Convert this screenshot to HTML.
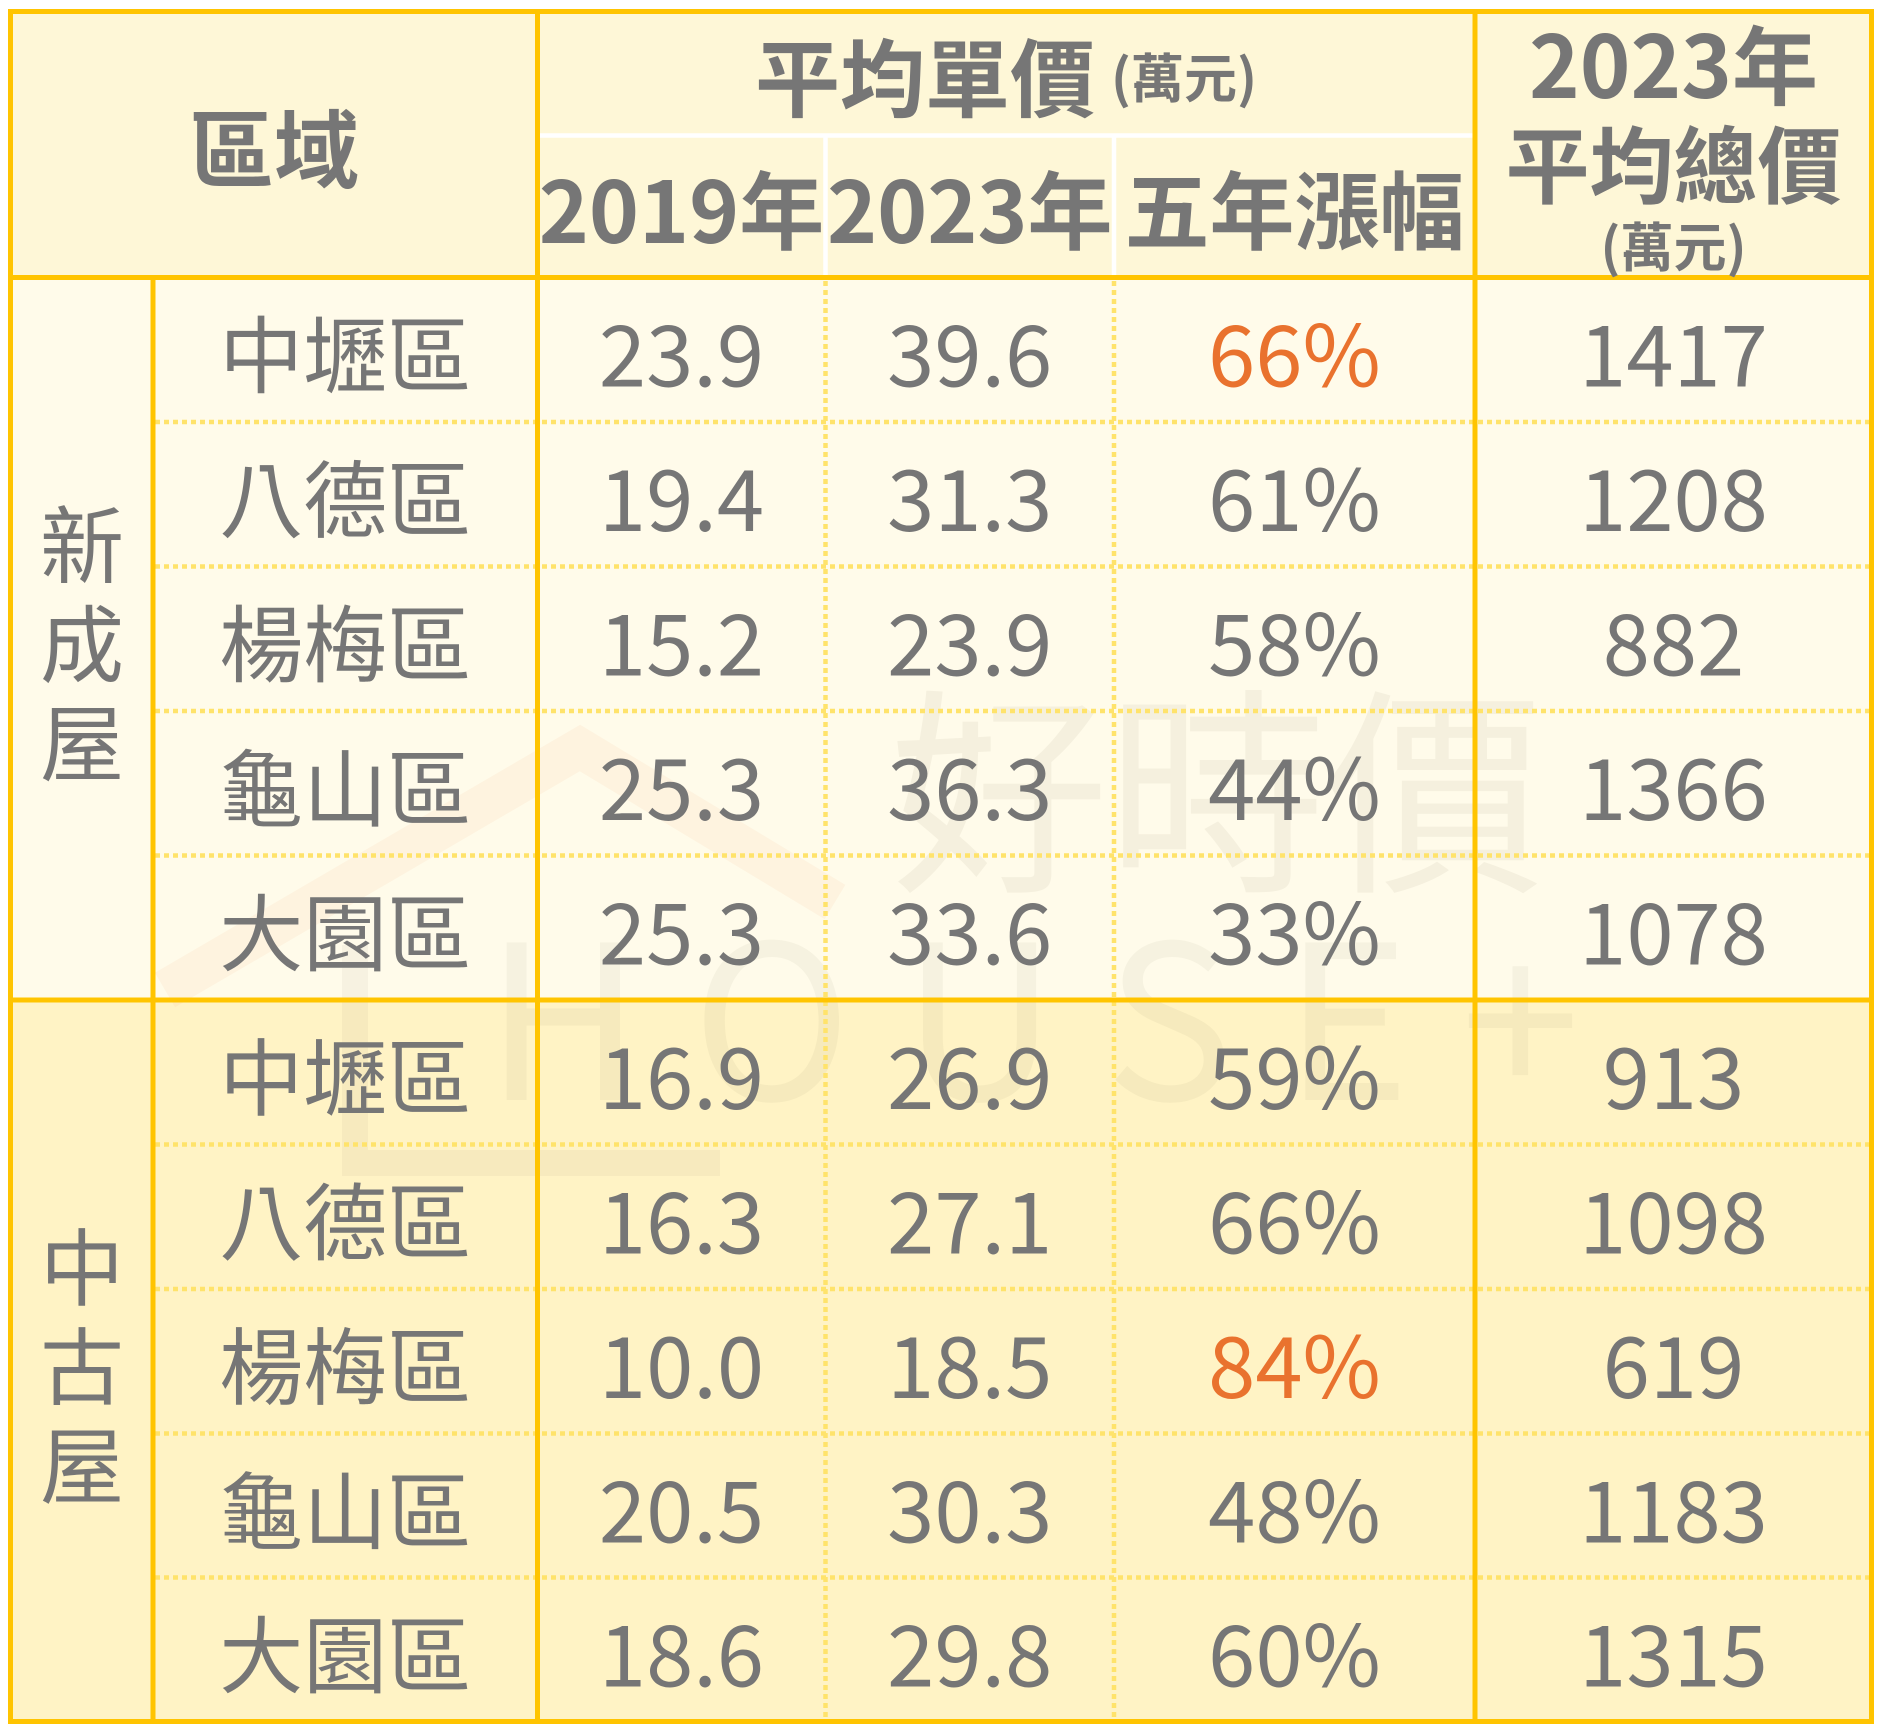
<!DOCTYPE html>
<html>
<head>
<meta charset="utf-8">
<style>
  html,body{margin:0;padding:0;background:#fff;}
  body{width:1886px;height:1734px;overflow:hidden;}
  svg{display:block;}
  .t{font-family:"Noto Sans CJK TC","Liberation Sans","Noto Sans CJK SC",sans-serif;fill:#767676;}
  .h{font-weight:700;}
</style>
</head>
<body>
<svg width="1886" height="1734" viewBox="0 0 1886 1734" xmlns="http://www.w3.org/2000/svg">
  <rect width="1886" height="1734" fill="#ffffff"/>
  <!-- backgrounds -->
  <rect x="10" y="11" width="1862" height="267" fill="#fef7d7"/>
  <rect x="10" y="277" width="1862" height="723" fill="#fffbea"/>
  <rect x="10" y="1000" width="1862" height="722" fill="#fff3c5"/>

  <!-- watermark -->
  <polyline points="165,990 580,748 835,902" fill="none" stroke="rgba(245,140,80,0.07)" stroke-width="40" stroke-linejoin="miter"/>
  <path d="M355,945 V1163 H720" fill="none" stroke="rgba(120,110,80,0.06)" stroke-width="26"/>
  <text class="t" x="889" y="875" font-size="220" textLength="655" lengthAdjust="spacing" style="fill:rgba(110,100,70,0.07)">好時價</text>
  <text class="t" x="485" y="1100" font-size="215" font-weight="400" textLength="1095" lengthAdjust="spacing" style="fill:rgba(110,100,70,0.06)">HOUSE+</text>

  <!-- dotted horizontals -->
  <g stroke="#ffe36b" stroke-width="4.5" stroke-dasharray="5 4">
    <line x1="155" x2="1870" y1="422" y2="422"/>
    <line x1="155" x2="1870" y1="566.5" y2="566.5"/>
    <line x1="155" x2="1870" y1="711" y2="711"/>
    <line x1="155" x2="1870" y1="855.5" y2="855.5"/>
    <line x1="155" x2="1870" y1="1144.5" y2="1144.5"/>
    <line x1="155" x2="1870" y1="1289" y2="1289"/>
    <line x1="155" x2="1870" y1="1433.5" y2="1433.5"/>
    <line x1="155" x2="1870" y1="1577.5" y2="1577.5"/>
    <line x1="825.5" x2="825.5" y1="281" y2="1719"/>
    <line x1="1114" x2="1114" y1="281" y2="1719"/>
  </g>

  <!-- white header lines -->
  <g stroke="#ffffff" stroke-width="4.5">
    <line x1="540" x2="1472.5" y1="135.5" y2="135.5"/>
    <line x1="825.5" x2="825.5" y1="137.5" y2="275"/>
    <line x1="1114" x2="1114" y1="137.5" y2="275"/>
  </g>

  <!-- solid lines -->
  <g stroke="#ffc400" stroke-width="5">
    <line x1="10" x2="1872" y1="277.5" y2="277.5"/>
    <line x1="10" x2="1872" y1="1000" y2="1000"/>
    <line x1="153" x2="153" y1="277.5" y2="1721.5"/>
    <line x1="537.5" x2="537.5" y1="11" y2="1721.5"/>
    <line x1="1475" x2="1475" y1="11" y2="1721.5"/>
  </g>
  <rect x="10.5" y="11.5" width="1861" height="1710" fill="none" stroke="#ffc400" stroke-width="5"/>

  <!-- header text -->
  <g class="t h" text-anchor="middle">
    <text x="274" y="181.5" font-size="85">區域</text>
    <text x="1006" y="110.7" font-size="85">平均單價<tspan font-size="53" dx="16" dy="-13">(萬元)</tspan></text>
    <text x="681.5" y="243" font-size="85">2019年</text>
    <text x="969.75" y="243" font-size="85">2023年</text>
    <text x="1294.5" y="243" font-size="85">五年漲幅</text>
    <text x="1673.5" y="98" font-size="86">2023年</text>
    <text x="1673.5" y="197" font-size="84">平均總價</text>
    <text x="1673.5" y="266.5" font-size="53">(萬元)</text>
  </g>

  <!-- group labels -->
  <g class="t" text-anchor="middle" font-size="84">
    <text x="82" y="576.6">新</text>
    <text x="82" y="675.6">成</text>
    <text x="82" y="774.6">屋</text>
    <text x="82" y="1299">中</text>
    <text x="82" y="1398">古</text>
    <text x="82" y="1497">屋</text>
  </g>

  <!-- districts -->
  <g class="t" text-anchor="middle" font-size="84">
    <text x="345.25" y="386.7">中壢區</text>
    <text x="345.25" y="531.2">八德區</text>
    <text x="345.25" y="675.7">楊梅區</text>
    <text x="345.25" y="820.2">龜山區</text>
    <text x="345.25" y="964.7">大園區</text>
    <text x="345.25" y="1109.2">中壢區</text>
    <text x="345.25" y="1253.7">八德區</text>
    <text x="345.25" y="1398.2">楊梅區</text>
    <text x="345.25" y="1542.7">龜山區</text>
    <text x="345.25" y="1686.7">大園區</text>
  </g>

  <!-- 2019 -->
  <g class="t" text-anchor="middle" font-size="85">
    <text x="681.5" y="386.7">23.9</text>
    <text x="681.5" y="531.2">19.4</text>
    <text x="681.5" y="675.7">15.2</text>
    <text x="681.5" y="820.2">25.3</text>
    <text x="681.5" y="964.7">25.3</text>
    <text x="681.5" y="1109.2">16.9</text>
    <text x="681.5" y="1253.7">16.3</text>
    <text x="681.5" y="1398.2">10.0</text>
    <text x="681.5" y="1542.7">20.5</text>
    <text x="681.5" y="1686.7">18.6</text>
  </g>

  <!-- 2023 -->
  <g class="t" text-anchor="middle" font-size="85">
    <text x="969.75" y="386.7">39.6</text>
    <text x="969.75" y="531.2">31.3</text>
    <text x="969.75" y="675.7">23.9</text>
    <text x="969.75" y="820.2">36.3</text>
    <text x="969.75" y="964.7">33.6</text>
    <text x="969.75" y="1109.2">26.9</text>
    <text x="969.75" y="1253.7">27.1</text>
    <text x="969.75" y="1398.2">18.5</text>
    <text x="969.75" y="1542.7">30.3</text>
    <text x="969.75" y="1686.7">29.8</text>
  </g>

  <!-- growth -->
  <g class="t" text-anchor="middle" font-size="85">
    <text x="1294.5" y="386.7" style="fill:#e9722e">66%</text>
    <text x="1294.5" y="531.2">61%</text>
    <text x="1294.5" y="675.7">58%</text>
    <text x="1294.5" y="820.2">44%</text>
    <text x="1294.5" y="964.7">33%</text>
    <text x="1294.5" y="1109.2">59%</text>
    <text x="1294.5" y="1253.7">66%</text>
    <text x="1294.5" y="1398.2" style="fill:#e9722e">84%</text>
    <text x="1294.5" y="1542.7">48%</text>
    <text x="1294.5" y="1686.7">60%</text>
  </g>

  <!-- total -->
  <g class="t" text-anchor="middle" font-size="85">
    <text x="1673.5" y="386.7">1417</text>
    <text x="1673.5" y="531.2">1208</text>
    <text x="1673.5" y="675.7">882</text>
    <text x="1673.5" y="820.2">1366</text>
    <text x="1673.5" y="964.7">1078</text>
    <text x="1673.5" y="1109.2">913</text>
    <text x="1673.5" y="1253.7">1098</text>
    <text x="1673.5" y="1398.2">619</text>
    <text x="1673.5" y="1542.7">1183</text>
    <text x="1673.5" y="1686.7">1315</text>
  </g>
</svg>
</body>
</html>
